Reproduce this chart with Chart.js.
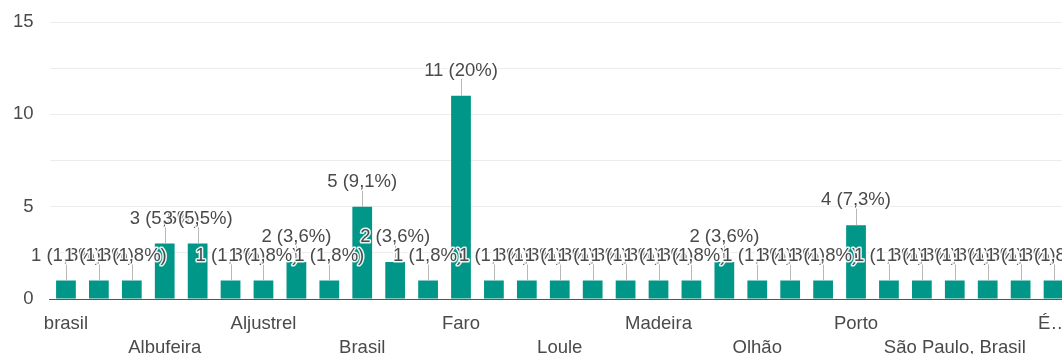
<!DOCTYPE html>
<html lang="pt">
<head>
<meta charset="utf-8">
<title>Localidade</title>
<script src="https://cdn.jsdelivr.net/npm/chart.js@4.4.1/dist/chart.umd.min.js"></script>
<style>
  html, body { margin: 0; padding: 0; background: #fff; overflow: hidden; }
  /* the plot runs a little past the right edge of the page */
  #wrap { position: relative; width: 1070px; height: 354px; }
</style>
</head>
<body>
<div id="wrap"><canvas id="chart"></canvas></div>
<script>
  // respostas por localidade (ordem do formulário)
  const categories = [
    'brasil', 'Alandroal', 'Albergaria', 'Albufeira', 'Alentejo', 'Algarve',
    'Aljustrel', 'Almancil', 'Angola', 'Brasil', 'Coimbra', 'Espanha',
    'Faro', 'Lagoa', 'Lisboa', 'Loule', 'Loulé', 'Luxemburgo',
    'Madeira', 'Moçambique', 'Monchique', 'Olhão', 'Paris', 'Portimão',
    'Porto', 'Quarteira', 'Santarém', 'São Paulo, Brasil', 'Setúbal', 'Tavira',
    'Évora'
  ];
  const counts = [
    1, 1, 1, 3, 3, 1,
    1, 2, 1, 5, 2, 1,
    11, 1, 1, 1, 1, 1,
    1, 1, 2, 1, 1, 1,
    4, 1, 1, 1, 1, 1,
    1
  ];
  const yTicks = [0, 5, 10, 15];

  const total = counts.reduce((a, b) => a + b, 0);
  const FONT = '"Liberation Sans", Arial, sans-serif';
  const FONT_SIZE = 18.5;
  const TEXT = '#4a4a4a';

  function pct(v) {
    const p = Math.round(v / total * 1000) / 10;
    return (Number.isInteger(p) ? String(p) : p.toFixed(1).replace('.', ',')) + '%';
  }

  // rótulos "n (x%)" com linha de ligação acima de cada barra
  const valueLabels = {
    id: 'valueLabels',
    afterDatasetsDraw(chart) {
      const ctx = chart.ctx;
      const meta = chart.getDatasetMeta(0);
      ctx.save();
      ctx.font = FONT_SIZE + 'px ' + FONT;
      ctx.textAlign = 'center';
      ctx.textBaseline = 'alphabetic';
      meta.data.forEach((bar, i) => {
        const v = counts[i];
        const top = bar.y;
        const x = Math.round(bar.x) + 0.5;
        ctx.strokeStyle = '#b8b8b8';
        ctx.lineWidth = 1;
        ctx.beginPath();
        ctx.moveTo(x, top);
        ctx.lineTo(x, top - 17);
        ctx.stroke();
        const txt = v + ' (' + pct(v) + ')';
        const y = top - 20;
        ctx.lineJoin = 'round';
        ctx.strokeStyle = 'rgba(255,255,255,0.9)';
        ctx.lineWidth = 3;
        ctx.strokeText(txt, bar.x, y);
        ctx.fillStyle = TEXT;
        ctx.fillText(txt, bar.x, y);
      });
      ctx.restore();
    }
  };

  new Chart(document.getElementById('chart'), {
    type: 'bar',
    data: {
      labels: categories,
      datasets: [{
        data: counts,
        backgroundColor: '#009688',
        barPercentage: 0.6,
        categoryPercentage: 1
      }]
    },
    options: {
      responsive: true,
      maintainAspectRatio: false,
      animation: false,
      layout: { padding: { top: 22, right: 0, left: 0, bottom: 0 } },
      plugins: { legend: { display: false }, tooltip: { enabled: false } },
      scales: {
        x: {
          afterFit(scale) {
            scale.height = 55;
            scale.paddingLeft = 0;
            scale.paddingRight = 0;
          },
          grid: { display: false, drawTicks: false },
          border: { color: '#555', width: 1 },
          ticks: {
            autoSkip: false,
            maxRotation: 0,
            padding: 13,
            color: TEXT,
            font: { family: FONT, size: FONT_SIZE, lineHeight: 1.3 },
            callback(value, index) {
              if (index % 3 !== 0) return '';
              let name = categories[index];
              if (index === categories.length - 1) name = name.charAt(0) + '…';
              return (index / 3) % 2 === 0 ? name : ['', name];
            }
          }
        },
        y: {
          min: 0,
          max: 15,
          afterFit(scale) {
            scale.width = 49.5;
            scale.paddingTop = 0;
            scale.paddingBottom = 0;
          },
          grid: { color: '#ececec', drawTicks: false },
          border: { display: false },
          ticks: {
            stepSize: 2.5,
            padding: 16,
            color: TEXT,
            font: { family: FONT, size: FONT_SIZE },
            callback(value) { return yTicks.includes(value) ? value : ''; }
          }
        }
      }
    },
    plugins: [valueLabels]
  });
</script>
</body>
</html>
